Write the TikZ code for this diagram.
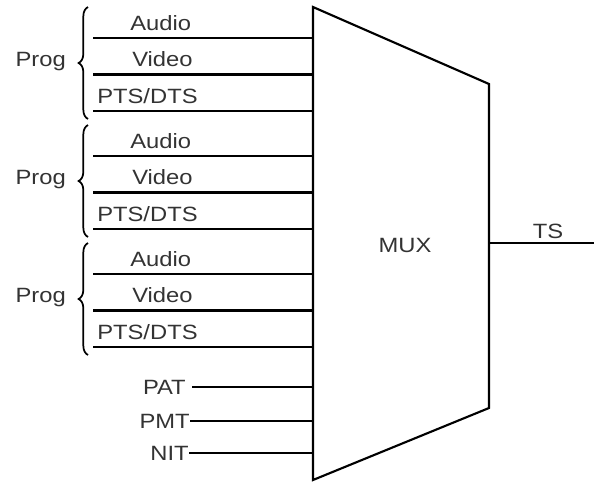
\documentclass[tikz,border=0pt]{standalone}
\usepackage{fontspec}
\setmainfont{Liberation Sans}[FakeStretch=1.15]
\usetikzlibrary{decorations.pathreplacing,positioning}

\begin{document}
\begin{tikzpicture}[
  x=0.75pt, y=-0.75pt,
  font=\fontsize{15.5}{18}\selectfont,
  lbl/.style={text=black!80, inner sep=0pt},
  wire/.style={line width=1.6pt},
  muxline/.style={line width=1.6pt, line join=miter},
  grp/.style={decorate, decoration={brace, amplitude=7pt}, line width=1.3pt}
]
\useasboundingbox (0,0) rectangle (594,483);

% multiplexer outline
\coordinate (mtl) at (313,7);
\coordinate (mtr) at (489,84);
\coordinate (mbr) at (489,408);
\coordinate (mbl) at (313,480);
\draw[muxline] (mtl) -- (mtr) -- (mbr) -- (mbl) -- cycle;
\node[lbl] (mux) at (405,245) {MUX};

% three programmes
\foreach \g/\y in {1/38, 2/156, 3/274} {
  \coordinate (a\g) at (93,\y);
  \coordinate (v\g) at (93,\y+36.5);
  \coordinate (p\g) at (93,\y+73);
  \node[lbl, anchor=base west] (audio\g) at (130,\y-8) {Audio};
  \node[lbl, anchor=base west] (video\g) at (132,\y+28.5) {Video};
  \node[lbl, anchor=base west] (pts\g) at (97,\y+65) {PTS/DTS};
  \draw[wire] (a\g) -- (a\g -| mtl);
  \draw[wire] (v\g) -- (v\g -| mtl);
  \draw[wire] (p\g) -- (p\g -| mtl);
  \coordinate (bb\g) at (88,\y+81);
  \coordinate (bt\g) at (88,\y-31);
  \draw[grp] (bb\g) -- (bt\g);
  \node[lbl, anchor=east] (prog\g) at (66,\y+24) {Prog};
}

% tables
\node[lbl, anchor=east] (pat) at (186,387) {PAT};
\node[lbl, anchor=east] (pmt) at (190,421) {PMT};
\node[lbl, anchor=east] (nit) at (189,453) {NIT};
\draw[wire] ([xshift=4.5pt]pat.east) -- (pat -| mtl);
\draw[wire] (pmt) -- (pmt -| mtl);
\draw[wire] (nit) -- (nit -| mtl);

% output
\coordinate (tsout) at (594,243);
\draw[wire] (mtr |- tsout) -- (tsout);
\node[lbl, anchor=base] (ts) at (548,238) {TS};
\end{tikzpicture}
\end{document}
